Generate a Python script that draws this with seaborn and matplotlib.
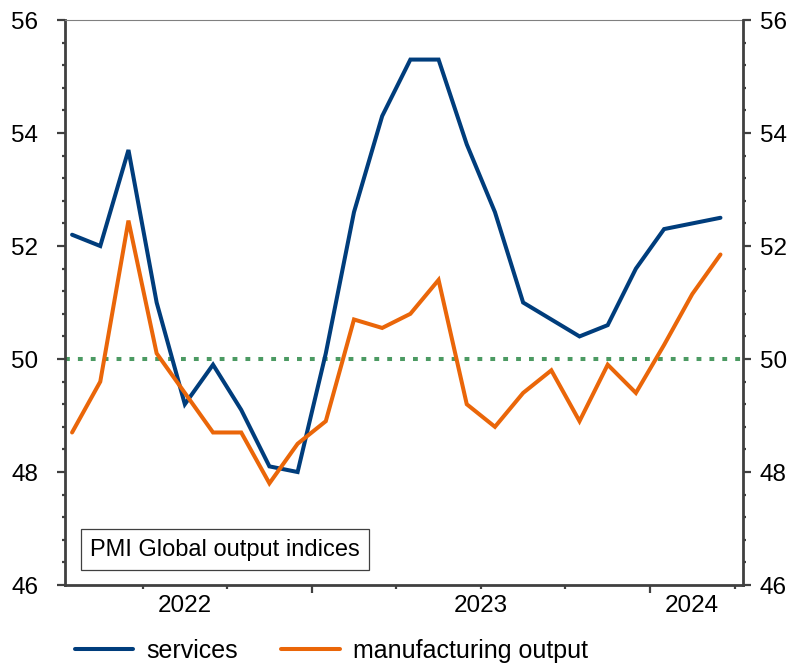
import numpy as np
import pandas as pd
import seaborn as sns
import matplotlib.pyplot as plt
from matplotlib.ticker import FixedLocator, MultipleLocator
from matplotlib.lines import Line2D

# monthly PMI readings, Apr 2022 - Mar 2024
months = list(pd.period_range('2022-04', '2024-03', freq='M').strftime('%Y-%m'))
services = [52.2, 52.0, 53.7, 51.0, 49.2, 49.9, 49.1, 48.1, 48.0, 50.1, 52.6, 54.3,
            55.3, 55.3, 53.8, 52.6, 51.0, 50.7, 50.4, 50.6, 51.6, 52.3, 52.4, 52.5]
manufacturing = [48.7, 49.6, 52.45, 50.1, 49.4, 48.7, 48.7, 47.8, 48.5, 48.9, 50.7, 50.55,
                 50.8, 51.4, 49.2, 48.8, 49.4, 49.8, 48.9, 49.9, 49.4, 50.25, 51.15, 51.85]
series_names = ['services', 'manufacturing output']
years = ['2022', '2023', '2024']
threshold = 50

colors = {'services': '#003d7c', 'manufacturing output': '#ea6609'}
green = '#4b9a62'
dark = '#404040'

df = pd.concat([
    pd.DataFrame({'month': months, 'x': np.arange(len(months)), 'value': services, 'series': series_names[0]}),
    pd.DataFrame({'month': months, 'x': np.arange(len(months)), 'value': manufacturing, 'series': series_names[1]}),
])

sns.set_style('ticks')
plt.rcParams['font.family'] = ['Liberation Sans', 'DejaVu Sans']
plt.rcParams['font.size'] = 17.5
plt.rcParams['text.color'] = 'black'
plt.rcParams['xtick.labelcolor'] = 'black'
plt.rcParams['ytick.labelcolor'] = 'black'

fig = plt.figure(figsize=(7.94, 6.63), dpi=100)
ax = fig.add_axes([0.0819, 0.1176, 0.8539, 0.8522])

# 50 = expansion / contraction line
ax.axhline(threshold, color=green, linewidth=2.9, linestyle=(0, (1.2, 2.0)), zorder=1)

sns.lineplot(data=df, x='x', y='value', hue='series', palette=colors,
             linewidth=2.9, legend=False, ax=ax, zorder=3)
for line in ax.get_lines():
    line.set_solid_joinstyle('miter')

ax.set_xlim(-0.25, 23.8)
ax.set_ylim(46, 56)
ax.set_xlabel('')
ax.set_ylabel('')

# y-axis left
ax.yaxis.set_major_locator(MultipleLocator(2))
ax.yaxis.set_minor_locator(MultipleLocator(0.4))
ax.tick_params(axis='y', which='major', direction='out', length=5.8, width=1.6,
               color=dark, pad=13.5, labelsize=17.5, labelcolor='black')
ax.tick_params(axis='y', which='minor', direction='out', length=2.5, width=1.6, color=dark)

# y-axis right
ax2 = ax.twinx()
ax2.set_ylim(46, 56)
ax2.yaxis.set_major_locator(MultipleLocator(2))
ax2.yaxis.set_minor_locator(MultipleLocator(0.4))
ax2.tick_params(axis='y', which='major', direction='out', length=6, width=1.6,
                color=dark, pad=6, labelsize=17.5, labelcolor='black')
ax2.tick_params(axis='y', which='minor', direction='out', length=2.5, width=1.6, color=dark)
for side in ['left', 'top', 'bottom']:
    ax2.spines[side].set_visible(False)
ax2.spines['right'].set_color(dark)
ax2.spines['right'].set_linewidth(2)

# x-axis: quarter ticks, year boundaries longer
ax.xaxis.set_major_locator(FixedLocator([8.5, 20.5]))
ax.xaxis.set_minor_locator(FixedLocator([2.5, 5.5, 11.5, 14.5, 17.5, 23.5]))
ax.tick_params(axis='x', which='major', direction='out', length=6, width=1.6,
               color=dark, labelbottom=False)
ax.tick_params(axis='x', which='minor', direction='out', length=2.8, width=1.6, color=dark)

year_axis = ax.secondary_xaxis('bottom')
year_axis.set_xticks([4, 14.5, 22], labels=years)
year_axis.tick_params(length=0, pad=7.5, labelsize=17.5, labelcolor='black')
year_axis.spines['bottom'].set_visible(False)

# spines
for side in ['left', 'bottom']:
    ax.spines[side].set_color(dark)
    ax.spines[side].set_linewidth(2)
ax.spines['right'].set_visible(False)
ax.spines['top'].set_color('#808080')
ax.spines['top'].set_linewidth(0.8)

# title box
ax.text(0.037, 0.043, 'PMI Global output indices', transform=ax.transAxes,
        fontsize=17, ha='left', va='bottom', zorder=5, color='black',
        bbox=dict(boxstyle='square,pad=0.4', fc='white', ec=dark, lw=0.9))

# legend
handles = [Line2D([0], [0], color=colors[name], linewidth=2.9) for name in series_names]
fig.legend(handles, series_names, loc='lower left', bbox_to_anchor=(0.094, 0.0),
           bbox_transform=fig.transFigure, ncol=2, frameon=False, fontsize=18,
           handlelength=2.35, handletextpad=0.5, columnspacing=1.75,
           borderpad=0, borderaxespad=0, labelcolor='black')

fig.savefig('out.png', dpi=100)
